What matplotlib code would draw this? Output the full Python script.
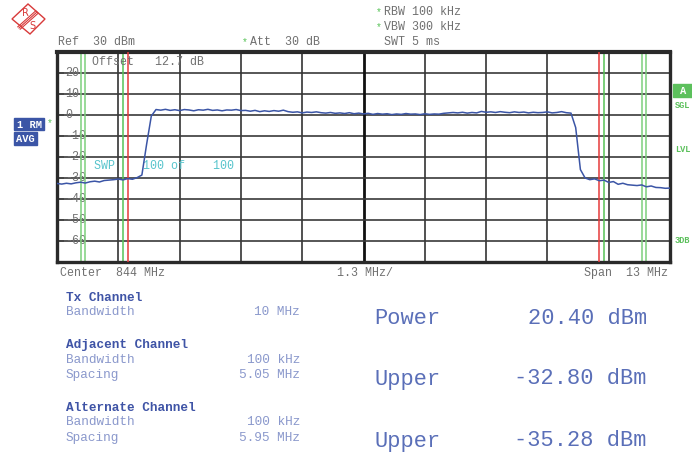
import numpy as np
import matplotlib
matplotlib.use('Agg')
import matplotlib.pyplot as plt
from matplotlib.patches import Polygon, Rectangle
from matplotlib.transforms import blended_transform_factory

# analyzer settings
center_mhz = 844.0
span_mhz = 13.0
step_mhz = 0.1
ref_dbm = 30
db_per_div = 10
y_ticks = [20, 10, 0, -10, -20, -30, -40, -50, -60]

# ACP channel setup
tx_bw = 10.0
adj_bw = 0.1
adj_spacing = 5.05
alt_bw = 0.1
alt_spacing = 5.95

# trace 1 (RM AVG), one value per 0.1 MHz from 837.5 to 850.5 MHz
level_dbm = [
    -32.6, -32.9, -32.5, -32.8, -32.3, -32.0, -32.4, -31.8, -31.5, -31.9,
    -31.2, -31.0, -30.8, -30.5, -30.9, -30.3, -30.6, -29.8, -28.6, -14.0,
    -0.5, 2.6, 2.3, 2.7, 2.2, 2.5, 2.1, 2.6, 2.4, 2.0,
    2.5, 2.3, 2.7, 2.2, 2.4, 2.0, 2.4, 2.3, 2.6, 2.1,
    2.2, 1.8, 2.2, 1.6, 2.0, 1.7, 2.1, 1.8, 2.3, 1.6,
    1.3, 1.5, 1.0, 1.4, 1.2, 1.5, 1.1, 0.9, 1.2, 0.8,
    1.0, 0.7, 1.1, 0.6, 0.9, 0.5, 0.8, 0.3, 0.7, 0.4,
    0.6, 0.2, 0.5, 0.3, 0.7, 0.4, 0.5, 0.2, 0.6, 0.3,
    0.5, 0.4, 0.8, 1.0, 1.2, 1.0, 1.3, 0.9, 1.2, 1.0,
    1.7, 1.3, 1.5, 1.2, 1.6, 1.3, 1.1, 1.5, 1.2, 1.4,
    1.0, 1.3, 1.1, 1.2, 1.5, 1.0, 1.2, 1.6, 1.1, 0.9,
    -6.0, -26.0, -30.0, -30.8, -30.4, -31.3, -31.0, -32.1, -31.7, -33.0,
    -32.5, -33.2, -33.4, -33.6, -33.3, -34.2, -33.8, -34.5, -34.6, -34.9,
    -34.8,
]

channel_labels = [
    ("Tx Channel", [("Bandwidth", "10 MHz")]),
    ("Adjacent Channel", [("Bandwidth", "100 kHz"), ("Spacing", "5.05 MHz")]),
    ("Alternate Channel", [("Bandwidth", "100 kHz"), ("Spacing", "5.95 MHz")]),
]
result_names = ["Power", "Upper", "Upper"]
result_values = ["20.40 dBm", "-32.80 dBm", "-35.28 dBm"]

W, H = 692, 453
MONO = ['Liberation Mono', 'DejaVu Sans Mono']
GRAY = '#707070'
GREEN = '#56c256'
RED = '#e53a3a'
BLUE = '#3b55a6'

fig = plt.figure(figsize=(W / 100, H / 100), dpi=100)
fig.patch.set_facecolor('white')


def fx(x):
    return x / W


def fy(y):
    return 1 - y / H


def ftext(x, y, s, **kw):
    kw.setdefault('family', MONO)
    kw.setdefault('fontsize', 8.4)
    kw.setdefault('color', GRAY)
    kw.setdefault('va', 'center')
    fig.text(fx(x), fy(y), s, **kw)


# plot area
ax = fig.add_axes([fx(57), fy(262), fx(670) - fx(57), fy(52) - fy(262)])
f_start = center_mhz - span_mhz / 2
f_stop = center_mhz + span_mhz / 2
ax.set_xlim(f_start, f_stop)
ax.set_ylim(ref_dbm - 10 * db_per_div, ref_dbm)

for i in range(1, 10):
    fx_line = f_start + i * span_mhz / 10
    ax.axvline(fx_line, color='#333333' if i != 5 else '#111111',
               lw=1.2 if i != 5 else 2.0, zorder=1)
    ax.axhline(ref_dbm - i * db_per_div, color='#3a3a3a', lw=1.2, zorder=1)

ax.set_xticks([])
ax.set_yticks(y_ticks)
ax.set_yticklabels([])
ax.tick_params(axis='y', direction='in', length=5, width=1.2, color='#444444')
for s in ax.spines.values():
    s.set_linewidth(2.4)
    s.set_color('#2a2a2a')
ax.spines['top'].set_linewidth(3.0)

trans = blended_transform_factory(ax.transAxes, ax.transData)
for v in y_ticks:
    ax.text(8 / 613, v, str(v), transform=trans, family=MONO, fontsize=8.4,
            color=GRAY, va='center', ha='left', zorder=2)

# channel limit lines
for sgn in (-1, 1):
    ax.axvline(center_mhz + sgn * tx_bw / 2, color=RED, lw=1.1, zorder=3)
    for d in (-0.5, 0.5):
        x_adj = center_mhz + sgn * (adj_spacing + d * adj_bw)
        if abs(x_adj - (center_mhz + sgn * tx_bw / 2)) > 1e-6:
            ax.axvline(x_adj, color=GREEN, lw=1.1, zorder=2)
        ax.axvline(center_mhz + sgn * (alt_spacing + d * alt_bw),
                   color='#7ccf7c', lw=1.1, zorder=2)

freq = f_start + np.arange(len(level_dbm)) * step_mhz
ax.plot(freq, level_dbm, color=BLUE, lw=1.1, zorder=4)

ax.text(35 / 613, 1 - 10 / 210, 'Offset   12.7 dB', transform=ax.transAxes,
        family=MONO, fontsize=8.4, color=GRAY, va='center', ha='left')
ax.text(37 / 613, 1 - 114 / 210, 'SWP    100 of    100', transform=ax.transAxes,
        family=MONO, fontsize=8.4, color='#58c4cc', va='center', ha='left')

# header
ftext(376, 12, '*', color=GREEN, fontsize=7)
ftext(384, 12, 'RBW 100 kHz')
ftext(376, 27, '*', color=GREEN, fontsize=7)
ftext(384, 27, 'VBW 300 kHz')
ftext(384, 42, 'SWT 5 ms')
ftext(58, 42, 'Ref  30 dBm')
ftext(242, 42, '*', color=GREEN, fontsize=7)
ftext(250, 42, 'Att  30 dB')

# footer of the diagram
ftext(60, 273, 'Center  844 MHz')
ftext(337, 273, '1.3 MHz/')
ftext(668, 273, 'Span  13 MHz', ha='right')

# side labels
fig.patches.append(Rectangle((fx(14), fy(130)), fx(30), fy(118) - fy(130),
                             transform=fig.transFigure, color=BLUE))
fig.patches.append(Rectangle((fx(14), fy(145)), fx(23), fy(132) - fy(145),
                             transform=fig.transFigure, color=BLUE))
ftext(17, 124.5, '1 RM', color='white', fontsize=7.5, weight='bold')
ftext(16, 139, 'AVG', color='white', fontsize=7.5, weight='bold')
ftext(47, 123, '*', color=GREEN, fontsize=7)
fig.patches.append(Rectangle((fx(673), fy(97)), fx(19), fy(84) - fy(97),
                             transform=fig.transFigure, color='#5cc05c'))
ftext(680, 90.5, 'A', color='white', fontsize=7.5, weight='bold')
ftext(675, 106, 'SGL', color='#5cc05c', fontsize=6.2, weight='bold')
ftext(675, 150, 'LVL', color='#5cc05c', fontsize=6.2, weight='bold')
ftext(675, 240, '3DB', color='#5cc05c', fontsize=6.2, weight='bold')

# R&S logo
fig.patches.append(Polygon([(fx(28), fy(4)), (fx(45), fy(19)), (fx(30), fy(34)),
                            (fx(12), fy(19))], closed=True, fill=False,
                           edgecolor='#d83a3a', lw=1.0, transform=fig.transFigure))
for k in (-1.2, 0, 1.2):
    fig.add_artist(plt.Line2D([fx(19 + k), fx(37 + k)], [fy(28 + k), fy(12 + k)],
                              color='#d83a3a', lw=0.8, transform=fig.transFigure))
ftext(25, 13, 'R', color='#d83a3a', fontsize=7, ha='center', family=['DejaVu Sans'])
ftext(32, 26, 'S', color='#d83a3a', fontsize=7, ha='center', family=['DejaVu Sans'])

# ACP table
rows_y = [[298, 312], [345, 360, 375], [408, 422, 438]]
for (title, entries), ys in zip(channel_labels, rows_y):
    ftext(66, ys[0], title, color='#3f54a6', fontsize=9.2, weight='bold')
    for (name, val), y in zip(entries, ys[1:]):
        ftext(66, y, name, color='#8a98cc', fontsize=9.2)
        ftext(300, y, val, color='#8a98cc', fontsize=9.2, ha='right')

for name, val, y in zip(result_names, result_values, [318, 379, 441]):
    ftext(374, y, name, color='#5a6fb8', fontsize=15.8)
    ftext(647, y, val, color='#5a6fb8', fontsize=15.8, ha='right')

fig.savefig('out.png', dpi=100)
